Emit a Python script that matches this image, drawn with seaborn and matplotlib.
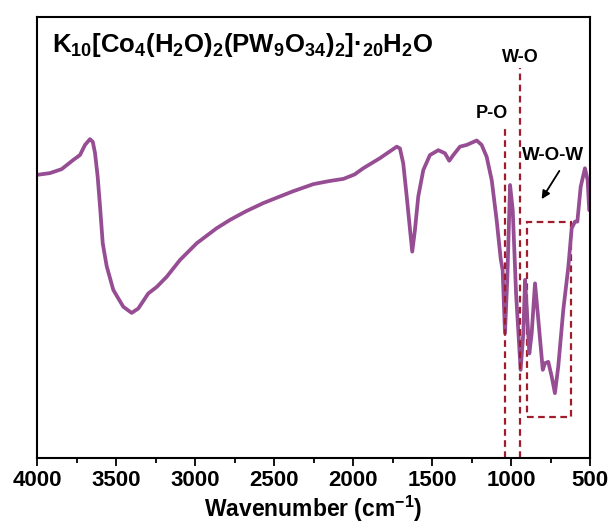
import numpy as np
import pandas as pd
import seaborn as sns
import matplotlib
matplotlib.use("Agg")
import matplotlib.pyplot as plt
from matplotlib.patches import Rectangle

sns.set_theme(style="white")
plt.rcParams['font.family'] = ['Liberation Sans', 'DejaVu Sans']
plt.rcParams['mathtext.fontset'] = 'custom'
plt.rcParams['mathtext.rm'] = 'Liberation Sans:bold'
plt.rcParams['mathtext.bf'] = 'Liberation Sans:bold'
plt.rcParams['mathtext.it'] = 'Liberation Sans:bold'
plt.rcParams['mathtext.default'] = 'bf'
plt.rcParams['text.color'] = 'black'
plt.rcParams['axes.labelcolor'] = 'black'
plt.rcParams['xtick.color'] = 'black'

# FTIR spectrum, transmittance in a.u.
wavenumber = [4000, 3918, 3844, 3770, 3728, 3696, 3665, 3647, 3633, 3616, 3601,
              3584, 3559, 3517, 3454, 3401, 3359, 3296, 3242, 3179, 3095, 2989,
              2863, 2778, 2680, 2568, 2470, 2378, 2251, 2150, 2060, 1990, 1935,
              1829, 1723, 1703, 1682,
              1660, 1639, 1625, 1608, 1587, 1555, 1513, 1460, 1418, 1391, 1365,
              1323, 1280, 1217, 1186, 1154, 1122, 1091, 1065, 1053, 1038, 1023,
              1006, 989, 968, 939, 922, 911, 896, 884, 869, 848, 827, 799, 785,
              764, 742, 722, 701, 669, 637, 616, 595, 580, 559, 532, 515, 505]
transmittance = [64.2, 64.6, 65.5, 67.6, 68.7, 71.0, 72.3, 71.7, 69.2, 63.8, 57.0,
                 48.7, 43.5, 38.1, 34.3, 32.9, 33.9, 37.3, 38.8, 41.1, 44.9, 48.7,
                 52.1, 54.0, 55.9, 57.8, 59.2, 60.5, 62.1, 62.8, 63.3, 64.3, 65.7,
                 68.0, 70.6, 70.2, 66.8,
                 59.3, 51.7, 46.8, 51.7, 59.3, 65.3, 68.7, 69.8, 69.1, 67.4, 68.7,
                 70.6, 71.0, 72.0, 71.0, 68.3, 63.0, 54.0, 45.1, 42.6, 28.3, 41.1,
                 61.9, 56.2, 37.3, 20.0, 28.3, 40.4, 31.3, 23.7, 28.3, 39.6, 31.3,
                 20.0, 21.5, 21.8, 18.4, 14.7, 20.7, 33.6, 43.4, 52.1, 53.6, 53.6,
                 61.5, 65.7, 63.0, 56.2]

xticks = [4000, 3500, 3000, 2500, 2000, 1500, 1000, 500]

df = pd.DataFrame({"wavenumber": wavenumber, "T": transmittance})

fig = plt.figure(figsize=(6.11, 5.30), dpi=100)
ax = fig.add_axes([37/611, 1-458/530, (590-37)/611, (458-17)/530])

sns.lineplot(data=df, x="wavenumber", y="T", ax=ax, color="#964D93",
             linewidth=2.7, sort=False, estimator=None)
ax.lines[0].set_solid_joinstyle('round')
ax.lines[0].set_solid_capstyle('round')

ax.set_xlim(4000, 500)
ax.set_ylim(0, 100)
ax.set_xticks(xticks)
ax.set_xticks(np.arange(500, 4001, 250), minor=True)
ax.set_xticklabels([str(t) for t in xticks], fontsize=16, fontweight='bold', color='black')
ax.set_yticks([])
ax.set_ylabel("")
ax.set_xlabel("Wavenumber (cm$^{-1}$)", fontsize=16.5, fontweight='bold', labelpad=2,
              color='black')
ax.tick_params(axis='x', which='major', direction='out', length=6, width=1.3,
               bottom=True, pad=3, color='black')
ax.tick_params(axis='x', which='minor', direction='out', length=3.5, width=1.3,
               bottom=True, color='black')
for s in ax.spines.values():
    s.set_linewidth(1.5)
    s.set_color('black')

red = "#A01C2A"
ax.plot([1038, 1038], [0, 74.8], ls=(0, (3, 2)), color=red, lw=1.6)
ax.plot([943, 943], [0, 88.4], ls=(0, (3, 2)), color=red, lw=1.6)
ax.add_patch(Rectangle((899, 9.3), 620-899, 53.5-9.3, fill=False, ls=(0, (3, 2)),
                       edgecolor=red, lw=1.6))

ax.text(0.027, 0.936, "K$_{10}$[Co$_{4}$(H$_{2}$O)$_{2}$(PW$_{9}$O$_{34}$)$_{2}$]·$_{20}$H$_{2}$O",
        transform=ax.transAxes, fontsize=18.5, fontweight='bold', ha='left', va='center',
        color='black')
ax.text(943, 90.9, "W-O", fontsize=13, fontweight='bold', ha='center', va='center', color='black')
ax.text(1120, 78.2, "P-O", fontsize=13, fontweight='bold', ha='center', va='center', color='black')
ax.text(734, 68.7, "W-O-W", fontsize=13.5, fontweight='bold', ha='center', va='center', color='black')
ax.annotate("", xy=(806, 58.7), xytext=(694, 65.1),
            arrowprops=dict(arrowstyle='-|>', color='black', lw=1.3,
                            mutation_scale=12, shrinkA=0, shrinkB=0))

fig.savefig("out.png", dpi=100)
